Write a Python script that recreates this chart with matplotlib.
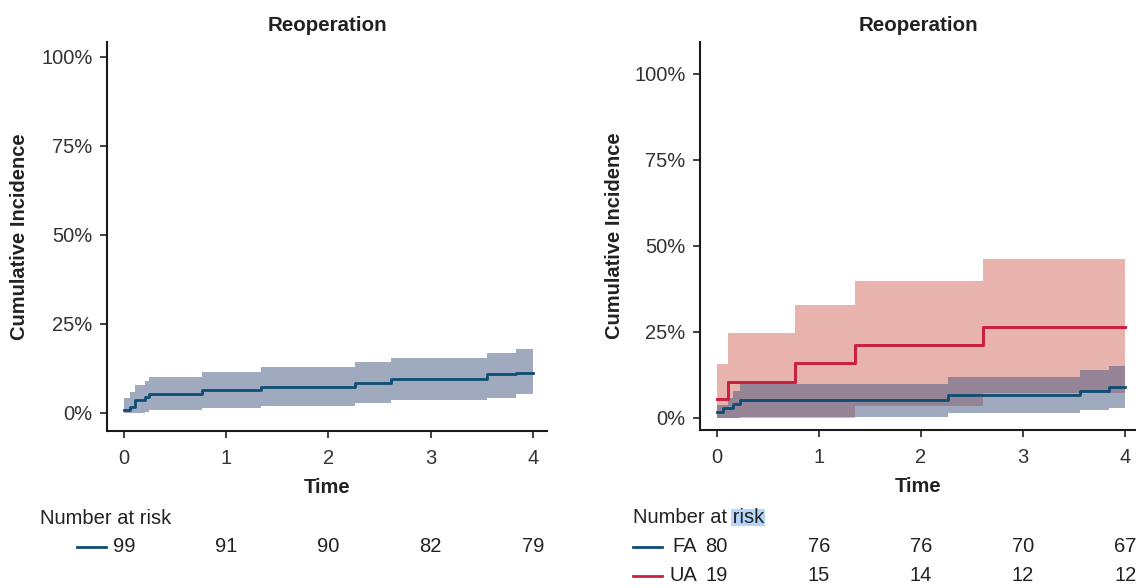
import numpy as np
import matplotlib
matplotlib.use("Agg")
import matplotlib.pyplot as plt
import matplotlib.patches as mpatches
import matplotlib.transforms as mtransforms
from matplotlib.ticker import PercentFormatter

plt.rcParams['font.family'] = ['Liberation Sans', 'DejaVu Sans']
plt.rcParams['font.size'] = 14.5

# all patients (left panel), cumulative incidence in %
all_time = [0, 0.06, 0.11, 0.21, 0.24, 0.76, 1.34, 2.26, 2.61, 3.55, 3.83, 4.0]
all_est = [0.8, 1.7, 3.5, 4.5, 5.4, 6.4, 7.3, 8.5, 9.6, 10.8, 11.3, 11.3]
all_hi = [4.2, 5.8, 7.7, 8.9, 10.0, 11.4, 12.9, 14.3, 15.4, 16.8, 18.0, 18.0]
all_lo = [0, 0, 0, 0.1, 0.7, 1.3, 1.9, 2.7, 3.5, 4.2, 5.3, 5.3]

# FA group
fa_time = [0, 0.065, 0.114, 0.163, 0.229, 2.26, 3.56, 3.84, 4.0]
fa_est = [1.5, 2.8, 2.8, 4.0, 5.2, 6.5, 7.6, 9.0, 9.0]
fa_hi = [3.8, 3.8, 5.8, 7.6, 9.8, 11.8, 13.7, 15.1, 15.1]
fa_lo = [0, 0, 0, 0, 0.3, 1.3, 2.1, 2.8, 2.8]

# UA group
ua_time = [0, 0.114, 0.77, 1.35, 2.61, 4.0]
ua_est = [5.3, 10.5, 15.8, 21.1, 26.3, 26.3]
ua_hi = [15.6, 24.6, 32.6, 39.6, 46.1, 46.1]
ua_lo = [0, 0, 0, 3.3, 7.1, 7.1]

# number at risk at t = 0..4
risk_times = [0, 1, 2, 3, 4]
risk_all = [99, 91, 90, 82, 79]
risk_fa = [80, 76, 76, 70, 67]
risk_ua = [19, 15, 14, 12, 12]

blue = '#0f4c74'
red = '#c9213f'
blue_band = '#435781'
red_band = '#d1695b'
txt = '#222222'

fig = plt.figure(figsize=(11.36, 5.88), dpi=100)
ax1 = fig.add_axes([107/1136, 157/588, 440/1136, 389/588])
ax2 = fig.add_axes([700/1136, 158/588, 436/1136, 388/588])


def style(ax, xlim, ylim, ylab_x):
    for s in ['top', 'right']:
        ax.spines[s].set_visible(False)
    for s in ['left', 'bottom']:
        ax.spines[s].set_linewidth(1.5)
        ax.spines[s].set_color('#1a1a1a')
    ax.set_xlim(*xlim)
    ax.set_ylim(*ylim)
    ax.set_xticks([0, 1, 2, 3, 4])
    ax.set_yticks([0, 25, 50, 75, 100])
    ax.yaxis.set_major_formatter(PercentFormatter(100, decimals=0))
    ax.tick_params(length=5, width=1.3, color='#333333', labelcolor='#333333')
    ax.tick_params(axis='x', pad=8)
    ax.tick_params(axis='y', pad=5.5)
    ax.set_title('Reoperation', fontweight='bold', fontsize=14.8, pad=8, color=txt)
    ax.set_xlabel('Time', fontweight='bold', color=txt)
    ax.xaxis.set_label_coords(0.5, -0.1465)
    ax.xaxis.label.set_va('center')
    ax.set_ylabel('Cumulative Incidence', fontweight='bold', color=txt)
    ax.yaxis.set_label_coords(ylab_x, 0.5)
    ax.yaxis.label.set_va('center')


def curve(ax, t, est, lo, hi, line_c, band_c):
    ax.fill_between(t, lo, hi, step='post', color=band_c, alpha=0.5, lw=0)
    ax.step(t, est, where='post', color=line_c, lw=2)


curve(ax1, all_time, all_est, all_lo, all_hi, blue, blue_band)
style(ax1, (-0.166, 4.137), (-5.1, 104.1), -0.198)

curve(ax2, ua_time, ua_est, ua_lo, ua_hi, red, red_band)
ax2.fill_between(fa_time, fa_lo, fa_hi, step='post', color=blue_band, alpha=0.5, lw=0)
ax2.step(ua_time, ua_est, where='post', color=red, lw=2)
ax2.step(fa_time, fa_est, where='post', color=blue, lw=2)
style(ax2, (-0.164, 4.106), (-3.6, 109.2), -0.197)

# number at risk tables below each panel
tr1 = mtransforms.blended_transform_factory(ax1.transData, ax1.transAxes)
ax1.text(-0.82, -0.2237, 'Number at risk', transform=tr1, ha='left', va='center', color=txt)
ax1.plot([-0.46, -0.175], [-0.298, -0.298], transform=tr1, color=blue, lw=2, clip_on=False)
for t, n in zip(risk_times, risk_all):
    ax1.text(t, -0.298, str(n), transform=tr1, ha='center', va='center', color=txt)

tr2 = mtransforms.blended_transform_factory(ax2.transData, ax2.transAxes)
head = ax2.text(-0.823, -0.2268, 'Number at risk', transform=tr2, ha='left', va='center', color=txt)
rows = [('FA', blue, risk_fa, -0.3015), ('UA', red, risk_ua, -0.3755)]
for name, c, counts, y in rows:
    ax2.plot([-0.82, -0.535], [y, y], transform=tr2, color=c, lw=2, clip_on=False)
    ax2.text(-0.193, y, name, transform=tr2, ha='right', va='center', color=txt)
    for t, n in zip(risk_times, counts):
        ax2.text(t, y, str(n), transform=tr2, ha='center', va='center', color=txt)

# selection highlight behind the word "risk"
fig.canvas.draw()
r = fig.canvas.get_renderer()
bb = head.get_window_extent(r)
tmp = ax2.text(0, 0, 'risk', transform=tr2)
w = tmp.get_window_extent(r).width
tmp.remove()
inv = ax2.transAxes.inverted()
(x0, y0), (x1, y1) = inv.transform([(bb.x1 - w - 1, bb.y0 + 1), (bb.x1 + 1, bb.y1 - 1)])
ax2.add_patch(mpatches.Rectangle((x0, y0), x1 - x0, y1 - y0, transform=ax2.transAxes,
                                 fc='#b5d5fb', ec='none', clip_on=False, zorder=0.5))

fig.savefig('out.png', dpi=100)
